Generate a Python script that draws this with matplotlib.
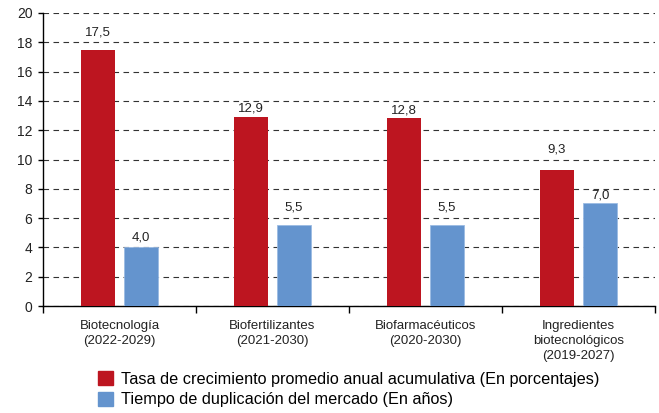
import numpy as np
import matplotlib.pyplot as plt
from matplotlib.patches import Patch

plt.rcParams['font.family'] = ['Liberation Sans', 'DejaVu Sans']

categories = ['Biotecnología\n(2022-2029)', 'Biofertilizantes\n(2021-2030)',
              'Biofarmacéuticos\n(2020-2030)', 'Ingredientes\nbiotecnológicos\n(2019-2027)']
tasa = [17.5, 12.9, 12.8, 9.3]
tiempo = [4.0, 5.5, 5.5, 7.0]
series_names = ['Tasa de crecimiento promedio anual acumulativa (En porcentajes)',
                'Tiempo de duplicación del mercado (En años)']
red = '#BD1520'
blue = '#6494CE'

fig = plt.figure(figsize=(6.59, 4.13), dpi=100)
ax = fig.add_axes([43 / 659, 1 - 306 / 413, 612 / 659, 293 / 413])

x = np.arange(len(categories))
w = 0.222
off = 0.141
b1 = ax.bar(x - off, tasa, w, color=red, zorder=3)
b2 = ax.bar(x + off, tiempo, w, color=blue, edgecolor='#9bbbe3', linewidth=0.6, zorder=3)

def fmt(v):
    return f'{v:.1f}'.replace('.', ',')

def label_y(v, step=2):
    # keep the value label clear of the dashed gridline right above the bar
    grid = np.ceil(v / step) * step
    if grid - v < 0.9:
        return grid + 0.28
    return v + 0.15

for bars, vals in ((b1, tasa), (b2, tiempo)):
    for r, v in zip(bars, vals):
        ax.text(r.get_x() + r.get_width() / 2, label_y(v), fmt(v),
                ha='center', va='bottom', fontsize=9.5, color='#222222')

ax.set_xlim(-0.5, len(categories) - 0.5)
ax.set_ylim(0, 20)
ax.set_yticks(range(0, 21, 2))
ax.yaxis.grid(True, color='#333333', linestyle=(0, (5, 4)), linewidth=0.8, zorder=0)
for s in ('top', 'right'):
    ax.spines[s].set_visible(False)
ax.spines['left'].set_linewidth(1.0)
ax.spines['bottom'].set_linewidth(1.0)

# category separators on the x axis, labels centred between them
ax.set_xticks(np.arange(-0.5, len(categories), 1.0))
ax.set_xticklabels([])
ax.set_xticks(x, minor=True)
ax.set_xticklabels(categories, minor=True, fontsize=9.5, color='#222222', linespacing=1.32)
ax.tick_params(axis='x', which='major', length=5, width=1, direction='out')
ax.tick_params(axis='x', which='minor', length=0, pad=10)
ax.tick_params(axis='y', length=3.6, width=1, labelsize=10, pad=4, labelcolor='#222222')

handles = [Patch(color=red), Patch(color=blue)]
fig.legend(handles, series_names, loc='upper left',
           bbox_to_anchor=(98 / 659, 1 - 371 / 413),
           frameon=False, fontsize=11.7, handlelength=0.95, handleheight=0.95,
           handletextpad=0.45, labelspacing=0.32, borderaxespad=0.0, borderpad=0.0)

fig.savefig('out.png', dpi=100)
